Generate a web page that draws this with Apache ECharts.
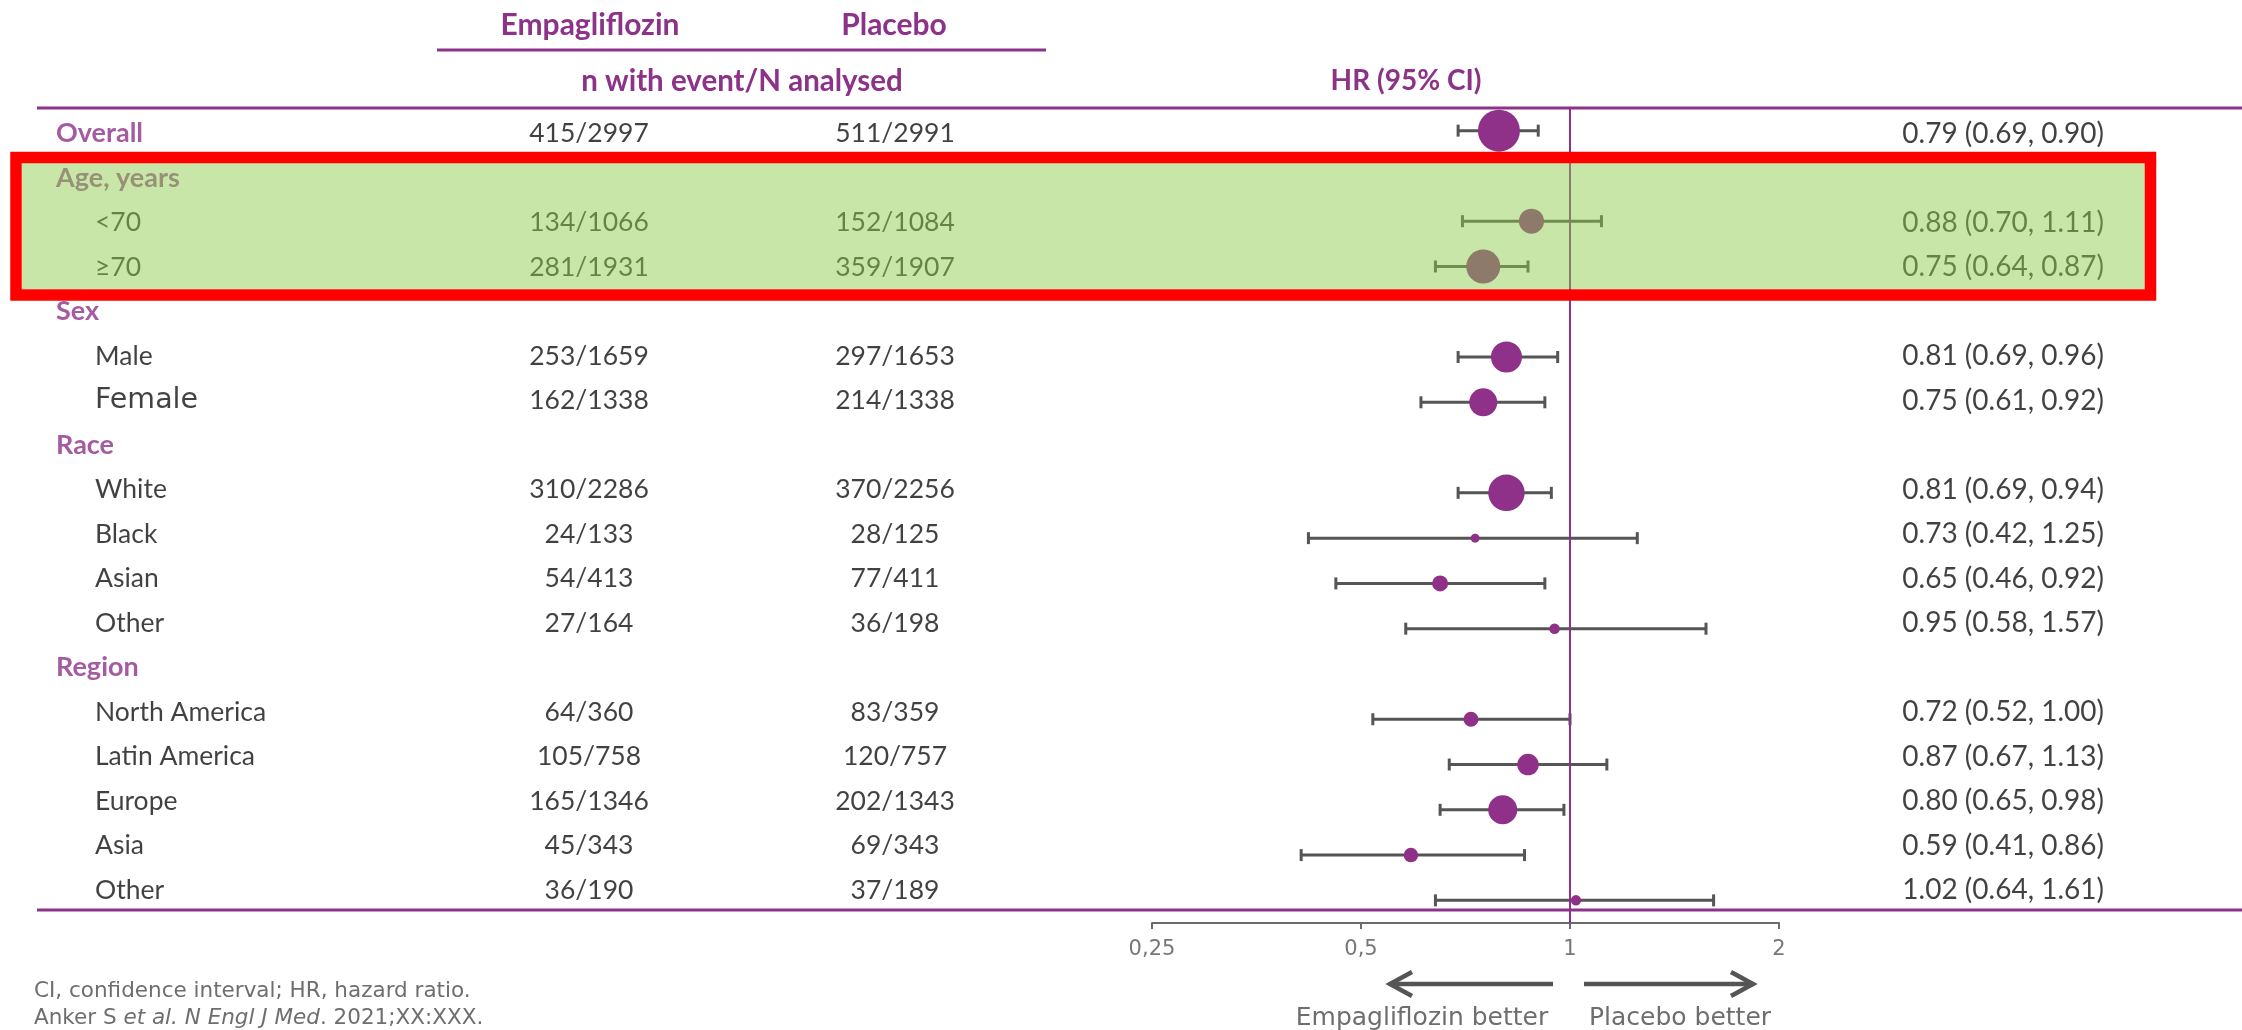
<!DOCTYPE html>
<html>
<head>
<meta charset="utf-8">
<script src="https://cdn.jsdelivr.net/npm/echarts@6/dist/echarts.min.js"></script>
<style>
  html, body { margin: 0; padding: 0; background: #ffffff; }
  #chart { width: 2242px; height: 1030px; }
</style>
</head>
<body>
<div id="chart"></div>
<script>
// ---- Subgroup data (EMPEROR-Preserved style forest plot) ----
const subgroups = ['Overall', 'Age, years', '<70', '≥70', 'Sex', 'Male', 'Female', 'Race',
  'White', 'Black', 'Asian', 'Other', 'Region', 'North America', 'Latin America', 'Europe', 'Asia', 'Other'];
// 0 = group heading, 1 = subgroup row
const indentLevel = [0, 0, 1, 1, 0, 1, 1, 0, 1, 1, 1, 1, 0, 1, 1, 1, 1, 1];
const empagliflozinEvents = ['415/2997', '', '134/1066', '281/1931', '', '253/1659', '162/1338', '',
  '310/2286', '24/133', '54/413', '27/164', '', '64/360', '105/758', '165/1346', '45/343', '36/190'];
const placeboEvents = ['511/2991', '', '152/1084', '359/1907', '', '297/1653', '214/1338', '',
  '370/2256', '28/125', '77/411', '36/198', '', '83/359', '120/757', '202/1343', '69/343', '37/189'];
const hazardRatio = [0.79, null, 0.88, 0.75, null, 0.81, 0.75, null, 0.81, 0.73, 0.65, 0.95, null, 0.72, 0.87, 0.80, 0.59, 1.02];
const ciLower     = [0.69, null, 0.70, 0.64, null, 0.69, 0.61, null, 0.69, 0.42, 0.46, 0.58, null, 0.52, 0.67, 0.65, 0.41, 0.64];
const ciUpper     = [0.90, null, 1.11, 0.87, null, 0.96, 0.92, null, 0.94, 1.25, 0.92, 1.57, null, 1.00, 1.13, 0.98, 0.86, 1.61];
// relative weight of each estimate, shown as marker diameter
const estimateWeight = [42, null, 25, 34, null, 31, 28, null, 36.5, 9, 16, 10.5, null, 15, 21.5, 29, 14.5, 10.5];
const tickValues = [0.25, 0.5, 1, 2];
const tickLabels = ['0,25', '0,5', '1', '2'];

// ---- Styling ----
const PURPLE = '#8d3289';
const MARKER = '#8f3089';
const BAR = '#555555';
const GREY = '#6e6e6e';
const BODY_FONT = 'Lato, "DejaVu Sans", sans-serif';
const ALT_FONT = '"DejaVu Sans", sans-serif';
const altFontLabels = new Set(['Female']);

// ---- Layout ----
const ROWS = subgroups.length;
const COL_GROUP_X = 56, COL_ITEM_X = 95, COL_EMPA_X = 589, COL_PLAC_X = 895, COL_HR_RIGHT = 2104;

const fmt = v => v.toFixed(2);
const hrText = hazardRatio.map((h, i) => h == null ? '' : `${fmt(h)} (${fmt(ciLower[i])}, ${fmt(ciUpper[i])})`);

function textColumn(texts, xOf, position, styleOf) {
  const data = [];
  texts.forEach((t, i) => {
    if (!t) return;
    data.push({ value: [xOf(i), i], label: { formatter: `{${styleOf(i)}|${t.replace(/[{}|]/g, '')}}` } });
  });
  return {
    type: 'scatter', xAxisIndex: 1, yAxisIndex: 1, symbolSize: 0, silent: true, z: 5,
    data,
    label: {
      show: true, position, distance: 0,
      rich: {
        g: { fontFamily: BODY_FONT, fontWeight: 'bold', fontSize: 27, color: PURPLE },
        s: { fontFamily: BODY_FONT, fontSize: 26.5, color: '#111111' },
        h: { fontFamily: BODY_FONT, fontSize: 28, color: '#111111' },
        a: { fontFamily: ALT_FONT, fontSize: 28.5, color: '#111111' }
      }
    }
  };
}

const markerData = [], barData = [];
hazardRatio.forEach((h, i) => {
  if (h == null) return;
  markerData.push({ value: [h, i], symbolSize: estimateWeight[i] });
  barData.push([ciLower[i], ciUpper[i], i]);
});

const chart = echarts.init(document.getElementById('chart'), null, { renderer: 'canvas' });

const option = {
  animation: false,
  backgroundColor: '#ffffff',
  grid: [
    { left: 1152, width: 627, top: 108, height: 815 },
    { left: 0, width: 2242, top: 111.5, height: 801 }
  ],
  xAxis: [
    {
      gridIndex: 0, type: 'log', logBase: 2, min: 0.25, max: 2, position: 'bottom',
      axisLine: { show: true, onZero: false, lineStyle: { color: '#6b6b6b', width: 2 } },
      axisTick: { show: true, length: 6, lineStyle: { color: '#6b6b6b', width: 2 } },
      splitLine: { show: false },
      axisLabel: {
        margin: 16, color: '#777777', fontFamily: ALT_FONT, fontSize: 21,
        formatter: v => {
          const k = tickValues.findIndex(t => Math.abs(t - v) < 1e-6);
          return k >= 0 ? tickLabels[k] : '';
        }
      }
    },
    { gridIndex: 1, type: 'value', min: 0, max: 2242, show: false }
  ],
  yAxis: [
    { gridIndex: 0, type: 'value', min: -0.5, max: ROWS - 0.5, inverse: true, show: false },
    { gridIndex: 1, type: 'value', min: -0.5, max: ROWS - 0.5, inverse: true, show: false }
  ],
  series: [
    {
      type: 'custom', xAxisIndex: 0, yAxisIndex: 0, z: 2, silent: true,
      data: barData,
      encode: { x: [0, 1], y: 2 },
      renderItem: (params, api) => {
        const row = api.value(2);
        const a = api.coord([api.value(0), row]);
        const b = api.coord([api.value(1), row]);
        const cap = 6;
        const st = { stroke: BAR, lineWidth: 3 };
        return {
          type: 'group', children: [
            { type: 'line', shape: { x1: a[0], y1: a[1], x2: b[0], y2: b[1] }, style: st },
            { type: 'line', shape: { x1: a[0], y1: a[1] - cap, x2: a[0], y2: a[1] + cap }, style: st },
            { type: 'line', shape: { x1: b[0], y1: b[1] - cap, x2: b[0], y2: b[1] + cap }, style: st }
          ]
        };
      }
    },
    {
      type: 'line', xAxisIndex: 0, yAxisIndex: 0, z: 3, silent: true, symbol: 'none',
      data: [[1, -0.5], [1, ROWS - 0.5]],
      lineStyle: { color: PURPLE, width: 2 }
    },
    {
      type: 'scatter', xAxisIndex: 0, yAxisIndex: 0, z: 4, silent: true,
      data: markerData,
      itemStyle: { color: MARKER, opacity: 1 }
    },
    textColumn(subgroups, i => indentLevel[i] === 0 ? COL_GROUP_X : COL_ITEM_X, 'right',
      i => indentLevel[i] === 0 ? 'g' : (altFontLabels.has(subgroups[i]) ? 'a' : 's')),
    textColumn(empagliflozinEvents, () => COL_EMPA_X, 'inside', () => 's'),
    textColumn(placeboEvents, () => COL_PLAC_X, 'inside', () => 's'),
    textColumn(hrText, () => COL_HR_RIGHT, 'left', () => 'h')
  ],
  graphic: [
    // table rules
    { type: 'line', shape: { x1: 437, y1: 50, x2: 1046, y2: 50 }, style: { stroke: PURPLE, lineWidth: 3 } },
    { type: 'line', shape: { x1: 37, y1: 108, x2: 2242, y2: 108 }, style: { stroke: PURPLE, lineWidth: 3 } },
    { type: 'line', shape: { x1: 37, y1: 910, x2: 2242, y2: 910 }, style: { stroke: PURPLE, lineWidth: 3 } },
    // column headings
    { type: 'text', x: 590, y: 25, style: { text: 'Empagliflozin', fill: PURPLE, fontFamily: BODY_FONT, fontWeight: 'bold', fontSize: 30, textAlign: 'center', textVerticalAlign: 'middle' } },
    { type: 'text', x: 894, y: 25, style: { text: 'Placebo', fill: PURPLE, fontFamily: BODY_FONT, fontWeight: 'bold', fontSize: 30, textAlign: 'center', textVerticalAlign: 'middle' } },
    { type: 'text', x: 742, y: 81, style: { text: 'n with event/N analysed', fill: PURPLE, fontFamily: BODY_FONT, fontWeight: 'bold', fontSize: 29.5, textAlign: 'center', textVerticalAlign: 'middle' } },
    { type: 'text', x: 1406, y: 81, style: { text: 'HR (95% CI)', fill: PURPLE, fontFamily: BODY_FONT, fontWeight: 'bold', fontSize: 28, textAlign: 'center', textVerticalAlign: 'middle' } },
    // direction arrows
    { type: 'polyline', shape: { points: [[1553, 984], [1390, 984]] }, style: { stroke: '#555555', lineWidth: 4.5, fill: null } },
    { type: 'polyline', shape: { points: [[1412, 972], [1390, 984], [1412, 996]] }, style: { stroke: '#555555', lineWidth: 4.5, fill: null } },
    { type: 'polyline', shape: { points: [[1584, 984], [1753, 984]] }, style: { stroke: '#555555', lineWidth: 4.5, fill: null } },
    { type: 'polyline', shape: { points: [[1731, 972], [1753, 984], [1731, 996]] }, style: { stroke: '#555555', lineWidth: 4.5, fill: null } },
    { type: 'text', x: 1422, y: 1018, style: { text: 'Empagliflozin better', fill: GREY, fontFamily: ALT_FONT, fontSize: 25, textAlign: 'center', textVerticalAlign: 'middle' } },
    { type: 'text', x: 1680, y: 1018, style: { text: 'Placebo better', fill: GREY, fontFamily: ALT_FONT, fontSize: 25, textAlign: 'center', textVerticalAlign: 'middle' } },
    // footnotes
    { type: 'text', x: 34, y: 991, style: { text: 'CI, confidence interval; HR, hazard ratio.', fill: GREY, fontFamily: ALT_FONT, fontSize: 21.5, textAlign: 'left', textVerticalAlign: 'middle' } },
    {
      type: 'text', x: 34, y: 1018,
      style: {
        text: '{n|Anker S }{i|et al. N Engl J Med}{n|. 2021;XX:XXX.}',
        textAlign: 'left', textVerticalAlign: 'middle',
        rich: {
          n: { fill: GREY, fontFamily: ALT_FONT, fontSize: 21.5 },
          i: { fill: GREY, fontFamily: ALT_FONT, fontSize: 21.5, fontStyle: 'italic' }
        }
      }
    },
    // highlighted age subgroup
    { type: 'rect', z: 100, shape: { x: 22, y: 163, width: 2123, height: 126 }, style: { fill: 'rgba(140,203,74,0.48)' } },
    { type: 'rect', z: 101, shape: { x: 16, y: 157.5, width: 2134.5, height: 137.5 }, style: { fill: null, stroke: '#ff0000', lineWidth: 11.5 } }
  ]
};

chart.setOption(option);
</script>
</body>
</html>
